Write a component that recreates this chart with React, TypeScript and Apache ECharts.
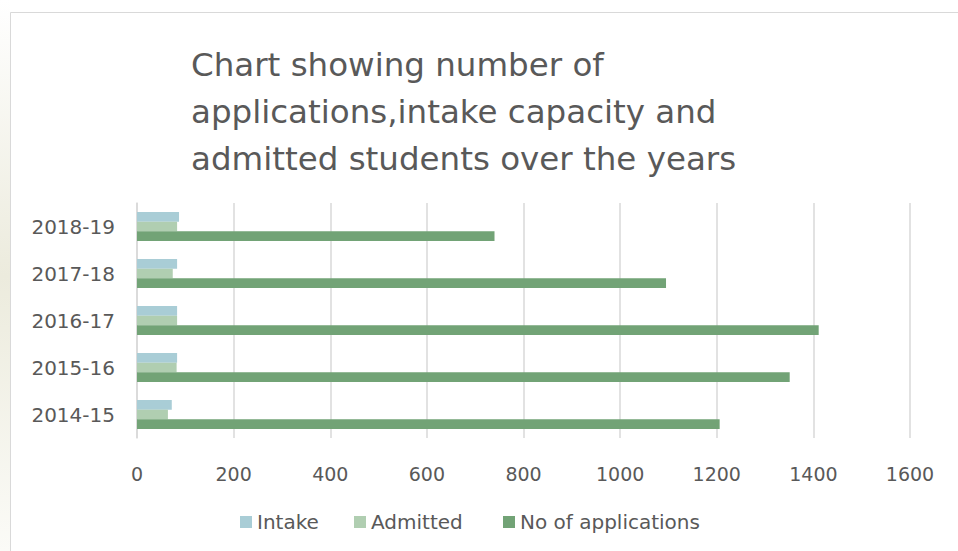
import React, { useEffect, useRef } from "react";
import * as echarts from "echarts";

const categories = ["2014-15", "2015-16", "2016-17", "2017-18", "2018-19"];
const intake = [72, 83, 83, 83, 87];
const admitted = [64, 82, 83, 74, 83];
const applications = [1206, 1351, 1411, 1095, 740];
const xTicks = { min: 0, max: 1600, interval: 200 };
const titleText = "Chart showing number of\napplications,intake capacity and\nadmitted students over the years";
const legendNames = ["Intake", "Admitted", "No of applications"];
const legendLefts = [240, 354, 503];

const FONT = "'DejaVu Sans', sans-serif";
const TXT = "#595959";

export default function App() {
  const ref = useRef<HTMLDivElement>(null);
  useEffect(() => {
    if (!ref.current) return;
    const chart = echarts.init(ref.current, null, { renderer: "svg" });
    chart.setOption({
      animation: false,
      backgroundColor: "#ffffff",
      textStyle: { fontFamily: FONT },
      graphic: [
        {
          type: "rect",
          left: 0,
          top: 0,
          shape: { width: 10, height: 551 },
          style: {
            fill: new echarts.graphic.LinearGradient(0, 0, 0, 1, [
              { offset: 0, color: "#ffffff" },
              { offset: 0.5, color: "#ecebdd" },
              { offset: 1, color: "#fbfbf7" },
            ]),
          },
          silent: true,
          z: -10,
        },
        {
          type: "rect",
          shape: { x: 10.5, y: 12.5, width: 960, height: 560 },
          style: { fill: "none", stroke: "#d9d9d9", lineWidth: 1 },
          silent: true,
          z: -5,
        },
        {
          type: "text",
          left: 191,
          top: 41,
          style: {
            text: titleText,
            fill: TXT,
            font: `32.5px ${FONT}`,
            lineHeight: 47,
          },
        },
      ],
      legend: legendNames.map((name, i) => ({
        data: [name],
        left: legendLefts[i],
        top: 512,
        padding: 0,
        itemWidth: 12,
        itemHeight: 12,
        icon: "rect",
        textStyle: { color: TXT, fontSize: 20, fontFamily: FONT },
      })),
      grid: { left: 137, right: 48, top: 203, bottom: 113, containLabel: false },
      xAxis: {
        type: "value",
        min: xTicks.min,
        max: xTicks.max,
        interval: xTicks.interval,
        axisLine: { show: false },
        axisTick: { show: false },
        splitLine: { lineStyle: { color: "#d9d9d9", width: 1.5 } },
        axisLabel: {
          color: TXT,
          fontSize: 19,
          margin: 26,
          fontFamily: FONT,
          formatter: (v: number) => String(v),
        },
      },
      yAxis: {
        type: "category",
        data: categories,
        axisLine: { show: true, lineStyle: { color: "#d9d9d9", width: 1.5 } },
        axisTick: { show: false },
        axisLabel: { color: TXT, fontSize: 20, margin: 22, fontFamily: FONT },
      },
      series: [
        {
          name: "Intake",
          type: "bar",
          data: intake,
          barWidth: 9.7,
          barGap: "0%",
          itemStyle: { color: "#a9cdd6" },
        },
        {
          name: "Admitted",
          type: "bar",
          data: admitted,
          barWidth: 9.7,
          barGap: "0%",
          itemStyle: { color: "#b0ceb1" },
        },
        {
          name: "No of applications",
          type: "bar",
          data: applications,
          barWidth: 9.7,
          barGap: "0%",
          itemStyle: { color: "#72a376" },
        },
      ],
    });
    return () => chart.dispose();
  }, []);
  return (
    <div
      ref={ref}
      style={{ position: "absolute", left: 0, top: 0, width: 958, height: 551 }}
    />
  );
}
